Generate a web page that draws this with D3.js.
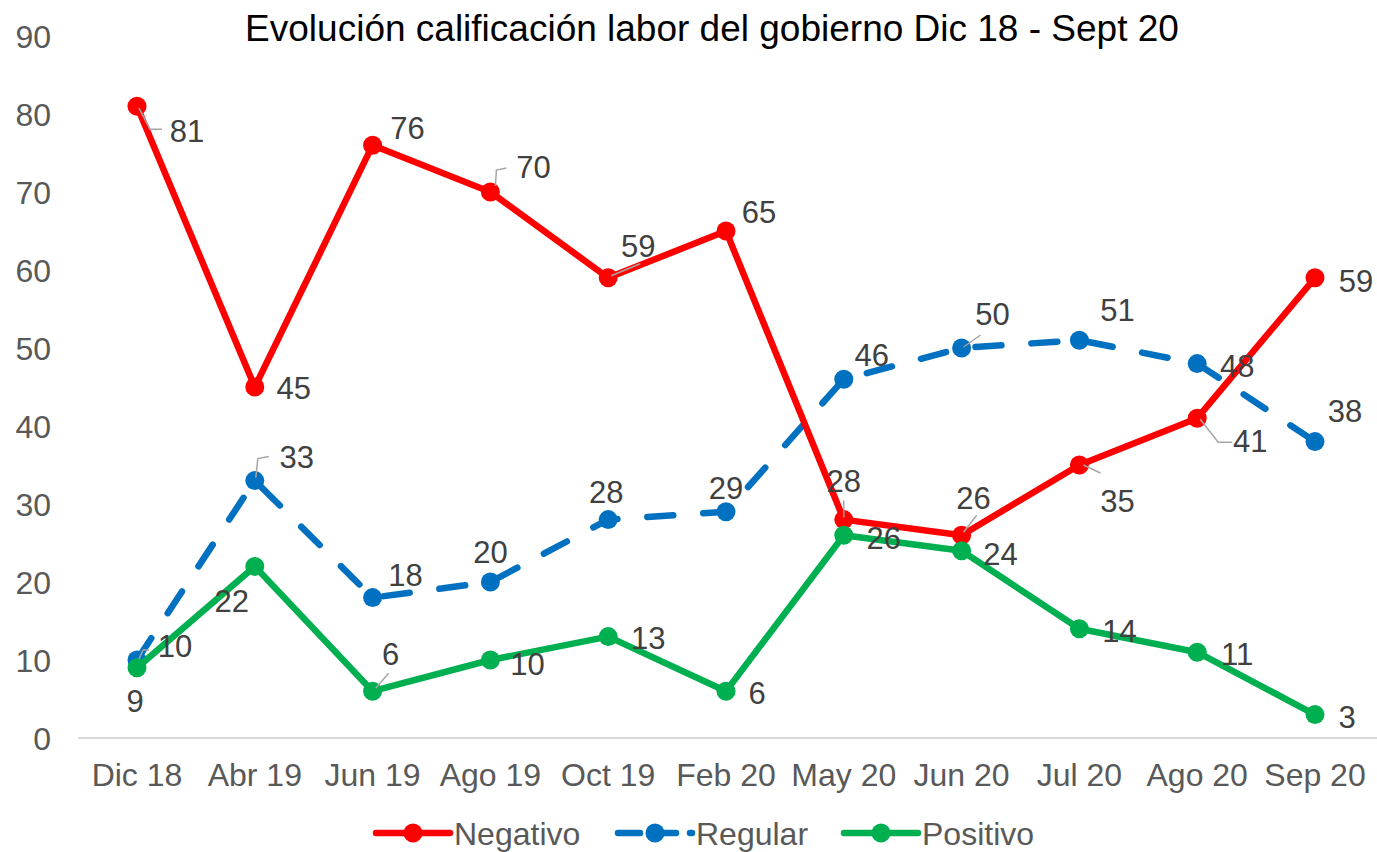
<!DOCTYPE html>
<html>
<head>
<meta charset="utf-8">
<script src="https://cdn.jsdelivr.net/npm/d3@7"></script>
<style>
    body { margin: 0; background: #fff; }
    text { font-family: "Liberation Sans", Arial, sans-serif; }
</style>
</head>
<body>
<div id="chart"></div>
<script>
// data
let categories = ["Dic 18", "Abr 19", "Jun 19", "Ago 19", "Oct 19", "Feb 20", "May 20", "Jun 20", "Jul 20", "Ago 20", "Sep 20"];
let negativo = [81, 45, 76, 70, 59, 65, 28, 26, 35, 41, 59];
let regular = [10, 33, 18, 20, 28, 29, 46, 50, 51, 48, 38];
let positivo = [9, 22, 6, 10, 13, 6, 26, 24, 14, 11, 3];
let yTicks = [0, 10, 20, 30, 40, 50, 60, 70, 80, 90];
let seriesNames = ["Negativo", "Regular", "Positivo"];

// label placement (offset of label centre from point) + optional leader line
let negLabels = [[50, 25], [39, 1], [35, -17], [43, -25], [30, -32], [33, -19], [0, -39], [12, -37], [38, 36], [53, 23], [41, 3]];
let regLabels = [[38, -14], [42, -24], [33, -23], [0, -30], [-2, -28], [0, -24], [28, -24], [31, -34], [38, -30], [40, 2], [30, -31]];
let posLabels = [[-2, 33], [-23, 34], [18, -37], [37, 4], [40, 1], [31, 2], [40, 3], [39, 3], [40, 2], [40, 2], [32, 2]];
let negLeaders = {0: [[2, 2], [13, 23], [25, 23]], 3: [[5, -6], [6, -22], [16, -24]], 4: [[3, -2], [32, -14]],
    6: [[0, -2], [0, -19]], 7: [[2, -3], [15, -20]], 8: [[4, 0], [21, 8]], 9: [[3, 1], [21, 24], [35, 24]]};
let regLeaders = {0: [[2, -1], [6, -10], [12, -10]], 1: [[1, -3], [3, -22], [14, -24]], 7: [[2, -1], [19, -13]]};
let posLeaders = {2: [[3, -3], [16, -18]]};

let width = 1377, height = 852;

let svg = d3.select("#chart").append("svg")
    .attr("width", width)
    .attr("height", height);

let x = d3.scalePoint()
    .domain(categories)
    .range([137, 1315]);

let y = d3.scaleLinear()
    .domain([0, 90])
    .range([738, 36]);

// title
svg.append("text")
    .attr("x", 712)
    .attr("y", 41)
    .attr("text-anchor", "middle")
    .style("font-size", "37px")
    .style("fill", "#000")
    .text("Evolución calificación labor del gobierno Dic 18 - Sept 20");

// y tick labels
svg.selectAll(".ytick")
    .data(yTicks)
    .enter().append("text")
    .attr("class", "ytick")
    .attr("x", 51)
    .attr("y", d => y(d))
    .attr("dy", "0.36em")
    .attr("text-anchor", "end")
    .style("font-size", "32px")
    .style("fill", "#595959")
    .text(d => d);

// x axis line
svg.append("line")
    .attr("x1", 78)
    .attr("x2", 1377)
    .attr("y1", y(0))
    .attr("y2", y(0))
    .attr("stroke", "#d9d9d9")
    .attr("stroke-width", 2);

svg.selectAll(".xtick")
    .data(categories)
    .enter().append("text")
    .attr("class", "xtick")
    .attr("x", d => x(d))
    .attr("y", 786)
    .attr("text-anchor", "middle")
    .style("font-size", "32px")
    .style("fill", "#595959")
    .text(d => d);

let series = [
    {name: "Negativo", values: negativo, color: "#ff0000", dash: null, labels: negLabels, leaders: negLeaders},
    {name: "Regular", values: regular, color: "#0070c0", dash: "26,30", labels: regLabels, leaders: regLeaders},
    {name: "Positivo", values: positivo, color: "#00b050", dash: null, labels: posLabels, leaders: posLeaders}
];

let line = d3.line()
    .x((d, i) => x(categories[i]))
    .y(d => y(d));

// draw in order Regular, Negativo, Positivo (positivo on top)
[series[1], series[0], series[2]].forEach(function (s) {
    svg.append("path")
        .datum(s.values)
        .attr("d", line)
        .attr("fill", "none")
        .attr("stroke", s.color)
        .attr("stroke-width", 6.5)
        .attr("stroke-linecap", "round")
        .attr("stroke-linejoin", "round")
        .attr("stroke-dasharray", s.dash);

    svg.selectAll(null)
        .data(s.values)
        .enter().append("circle")
        .attr("cx", (d, i) => x(categories[i]))
        .attr("cy", d => y(d))
        .attr("r", 9.5)
        .attr("fill", s.color);
});

// leader lines and labels
series.forEach(function (s) {
    Object.keys(s.leaders).forEach(function (k) {
        let i = +k;
        let px = x(categories[i]), py = y(s.values[i]);
        svg.append("polyline")
            .attr("points", s.leaders[k].map(p => (px + p[0]) + "," + (py + p[1])).join(" "))
            .attr("fill", "none")
            .attr("stroke", "#a6a6a6")
            .attr("stroke-width", 1.5);
    });

    svg.selectAll(null)
        .data(s.values)
        .enter().append("text")
        .attr("x", (d, i) => x(categories[i]) + s.labels[i][0])
        .attr("y", (d, i) => y(d) + s.labels[i][1])
        .attr("dy", "0.36em")
        .attr("text-anchor", "middle")
        .style("font-size", "31px")
        .style("fill", "#404040")
        .text(d => d);
});

// legend
let legendX = [376, 618, 844];
let legend = svg.selectAll(".legend")
    .data(series)
    .enter().append("g")
    .attr("class", "legend")
    .attr("transform", (d, i) => `translate(${legendX[i]}, 833)`);

legend.append("line")
    .attr("x1", 0)
    .attr("x2", 74)
    .attr("stroke", d => d.color)
    .attr("stroke-width", 6.5)
    .attr("stroke-linecap", "round")
    .attr("stroke-dasharray", d => d.dash ? "22,14" : null);

legend.append("circle")
    .attr("cx", 37)
    .attr("r", 9.5)
    .attr("fill", d => d.color);

legend.append("text")
    .attr("x", 78)
    .attr("dy", "0.36em")
    .style("font-size", "32px")
    .style("fill", "#595959")
    .text(d => d.name);
</script>
</body>
</html>
